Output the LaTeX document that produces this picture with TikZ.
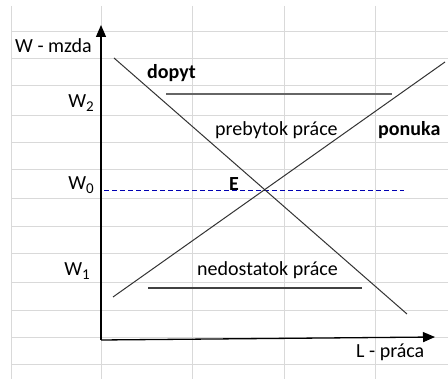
\documentclass[tikz,border=0pt]{standalone}
\usepackage{fontspec}
\setmainfont{Carlito}
\usetikzlibrary{arrows.meta}
\newcommand{\subsc}[1]{\raisebox{-4pt}{\fontsize{15}{15}\selectfont #1}}
\tikzset{
  grid line/.style={draw=gray!30, line width=1pt},
  axis/.style={draw=black, line width=1.3pt, -{Triangle[length=12pt,width=10pt]}},
  curve/.style={draw=black!80, line width=1pt},
  lbl/.style={inner sep=0pt, font=\fontsize{20}{24}\selectfont, text=black},
  bl/.style={lbl, font=\fontsize{20}{24}\selectfont\bfseries},
}
\begin{document}
\begin{tikzpicture}[x=1pt,y=-1pt]
\useasboundingbox (0,0) rectangle (448,379);
\fill[white] (0,0) rectangle (448,379);
% grid
\foreach \gx in {11,101,192,284,375} \draw[grid line] (\gx,6) -- (\gx,379);
\foreach \gy in {32,59,86,116,143,170,199,227,254,283,311,338,365} \draw[grid line] (11,\gy) -- (448,\gy);
% coordinates
\coordinate (O) at (101,340);
\coordinate (Ytip) at (101,25);
\coordinate (Xtip) at (435,337);
\coordinate (d1) at (114,58);
\coordinate (d2) at (407,314);
\coordinate (s1) at (113,297);
\coordinate (s2) at (445,62);
\coordinate (h1a) at (166,94);
\coordinate (h1b) at (392,94);
\coordinate (h2a) at (148,288);
\coordinate (h2b) at (362,288);
\coordinate (w0a) at (104,191);
\coordinate (w0b) at (404,191);
% lines
\draw[blue!70!black, line width=1pt, dash pattern=on 5pt off 3pt] (w0a) -- (w0b);
\draw[curve] (d1) -- (d2);
\draw[curve] (s1) -- (s2);
\draw[draw=black!60, line width=2pt] (h1a) -- (h1b);
\draw[draw=black!75, line width=1.3pt] (h2a) -- (h2b);
\draw[axis] (O) -- (Ytip);
\draw[axis] (O) -- (Xtip);
% labels
\node[lbl, anchor=base west] (ylab) at (15,53) {W - mzda};
\node[bl, anchor=base west] (dop) at (147,79) {dopyt};
\node[lbl, anchor=base east] (w2) at (94,108) {W\subsc{2}};
\node[lbl, anchor=base west] (preb) at (215,136) {prebytok práce};
\node[bl, anchor=base west] (pon) at (378,136) {ponuka};
\node[lbl, anchor=base east] (w0) at (94,190) {W\subsc{0}};
\node[bl, anchor=base west] (E) at (229,191) {E};
\node[lbl, anchor=base east] (w1) at (90,276) {W\subsc{1}};
\node[lbl, anchor=base west] (ned) at (197,276) {nedostatok práce};
\node[lbl, anchor=base west] (xlab) at (356,358) {L - práca};
\end{tikzpicture}
\end{document}
